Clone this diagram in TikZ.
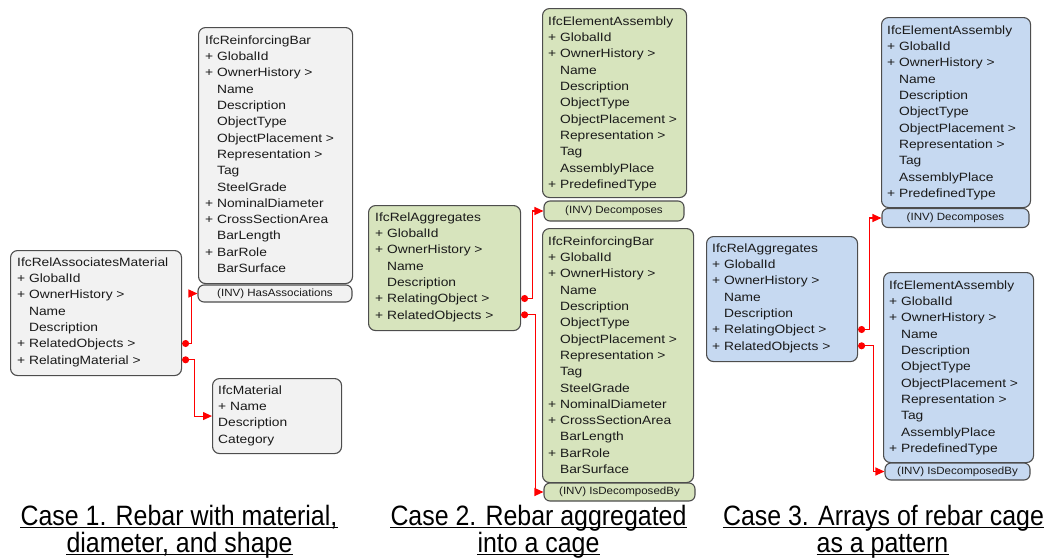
\documentclass[tikz,border=0pt]{standalone}
\usepackage{fontspec}
\setmainfont{Liberation Sans}
\usetikzlibrary{arrows.meta,calc}

\newfontfamily\boxfont[FakeStretch=1.15]{Liberation Sans}
\newfontfamily\invfont[FakeStretch=1.1]{Liberation Sans}
\newfontfamily\capfont[FakeStretch=0.89]{Liberation Sans}

\definecolor{boxgray}{HTML}{F2F2F2}
\definecolor{boxgreen}{HTML}{D7E4BD}
\definecolor{boxblue}{HTML}{C6D9F1}
\definecolor{boxline}{HTML}{4D4D4D}
\definecolor{attrtext}{HTML}{1A1A1A}

\newcommand{\noplus}{\phantom{+ }}
% one text row per attribute, row 0 is the class name
\newcommand{\classrows}[4]{%
  \foreach \t [count=\i from 0] in {#4}
    \node[attr] (#1-\i) at (#2,#3+16.3*\i) {\t};}

\tikzset{
  cbox/.style={draw=boxline, line width=1.1pt, rounded corners=7pt, anchor=north west, inner sep=0pt},
  invbox/.style={draw=boxline, line width=1.1pt, rounded corners=6pt, inner sep=0pt, text=attrtext,
    font=\invfont\fontsize{10.5}{12}\selectfont},
  attr/.style={anchor=west, inner sep=0pt, text height=8.6pt, text depth=0pt, text=attrtext,
    font=\boxfont\fontsize{12}{14}\selectfont},
  link/.style={draw=red, line width=1.1pt, arrows={Circle[length=7pt]-Triangle[length=9pt,width=8pt]}},
  caption/.style={anchor=base, inner sep=0pt, font=\capfont\fontsize{28}{30}\selectfont},
  capline/.style={line width=1.3pt}
}

\begin{document}
\begin{tikzpicture}[x=1pt, y=-1pt]
    \useasboundingbox (0,0) rectangle (1047,557);

    % Case 1
    \node[cbox, fill=boxgray, minimum width=171pt, minimum height=125pt] (ram) at (10,250) {};
    \node[cbox, fill=boxgray, minimum width=154pt, minimum height=256pt] (rb1) at (198,27) {};
    \node[invbox, fill=boxgray, minimum width=154pt, minimum height=17pt] (rb1inv) at (275,293.5) {(INV) HasAssociations};
    \node[cbox, fill=boxgray, minimum width=129pt, minimum height=75pt] (mat) at (212,378) {};
    \classrows{ram}{17}{262}{IfcRelAssociatesMaterial, + GlobalId, + OwnerHistory >, \noplus Name,
      \noplus Description, + RelatedObjects >, + RelatingMaterial >}
    \classrows{rb1}{205}{40}{IfcReinforcingBar, + GlobalId, + OwnerHistory >, \noplus Name, \noplus Description,
      \noplus ObjectType, \noplus ObjectPlacement >, \noplus Representation >, \noplus Tag, \noplus SteelGrade,
      + NominalDiameter, + CrossSectionArea, \noplus BarLength, + BarRole, \noplus BarSurface}
    \classrows{mat}{218}{390}{IfcMaterial, + Name, Description, Category}
    \draw[link] (ram-5 -| ram.east) -- ++(9,0) |- (rb1inv.west);
    \draw[link] (ram-6 -| ram.east) -- ++(12,0) |- (mat.west);

    % Case 2
    \node[cbox, fill=boxgreen, minimum width=152pt, minimum height=125pt] (ra2) at (368,205) {};
    \node[cbox, fill=boxgreen, minimum width=144pt, minimum height=189pt] (ea2) at (542,8) {};
    \node[invbox, fill=boxgreen, minimum width=140pt, minimum height=20pt] (ea2inv) at (614,211) {(INV) Decomposes};
    \node[cbox, fill=boxgreen, minimum width=151pt, minimum height=254pt] (rb2) at (542,228) {};
    \node[invbox, fill=boxgreen, minimum width=151pt, minimum height=18pt] (rb2inv) at (619.5,492) {(INV) IsDecomposedBy};
    \classrows{ra2}{375}{217}{IfcRelAggregates, + GlobalId, + OwnerHistory >, \noplus Name,
      \noplus Description, + RelatingObject >, + RelatedObjects >}
    \classrows{ea2}{548}{21}{IfcElementAssembly, + GlobalId, + OwnerHistory >, \noplus Name, \noplus Description,
      \noplus ObjectType, \noplus ObjectPlacement >, \noplus Representation >, \noplus Tag,
      \noplus AssemblyPlace, + PredefinedType}
    \classrows{rb2}{548}{241}{IfcReinforcingBar, + GlobalId, + OwnerHistory >, \noplus Name, \noplus Description,
      \noplus ObjectType, \noplus ObjectPlacement >, \noplus Representation >, \noplus Tag, \noplus SteelGrade,
      + NominalDiameter, + CrossSectionArea, \noplus BarLength, + BarRole, \noplus BarSurface}
    \draw[link] (ra2-5 -| ra2.east) -- ++(11,0) |- (ea2inv.west);
    \draw[link] (ra2-6 -| ra2.east) -- ++(14,0) |- (rb2inv.west);

    % Case 3
    \node[cbox, fill=boxblue, minimum width=151pt, minimum height=125pt] (ra3) at (706,236) {};
    \node[cbox, fill=boxblue, minimum width=149pt, minimum height=190pt] (ea3a) at (881,17) {};
    \node[invbox, fill=boxblue, minimum width=147pt, minimum height=19pt] (ea3ainv) at (955.5,218) {(INV) Decomposes};
    \node[cbox, fill=boxblue, minimum width=150pt, minimum height=190pt] (ea3b) at (883,272) {};
    \node[invbox, fill=boxblue, minimum width=145pt, minimum height=17pt] (ea3binv) at (957.5,471.5) {(INV) IsDecomposedBy};
    \classrows{ra3}{712}{248}{IfcRelAggregates, + GlobalId, + OwnerHistory >, \noplus Name,
      \noplus Description, + RelatingObject >, + RelatedObjects >}
    \classrows{ea3a}{887}{30}{IfcElementAssembly, + GlobalId, + OwnerHistory >, \noplus Name, \noplus Description,
      \noplus ObjectType, \noplus ObjectPlacement >, \noplus Representation >, \noplus Tag,
      \noplus AssemblyPlace, + PredefinedType}
    \classrows{ea3b}{889}{285}{IfcElementAssembly, + GlobalId, + OwnerHistory >, \noplus Name, \noplus Description,
      \noplus ObjectType, \noplus ObjectPlacement >, \noplus Representation >, \noplus Tag,
      \noplus AssemblyPlace, + PredefinedType}
    \draw[link] (ra3-5 -| ra3.east) -- ++(11,0) |- (ea3ainv.west);
    \draw[link] (ra3-6 -| ra3.east) -- ++(15,0) |- (ea3binv.west);

    % captions
    \node[caption] (cap1a) at (179,525) {Case 1. Rebar with material,};
    \node[caption] (cap1b) at (179.5,552) {diameter, and shape};
    \node[caption] (cap2a) at (538.5,525) {Case 2. Rebar aggregated};
    \node[caption] (cap2b) at (538.5,552) {into a cage};
    \node[caption] (cap3a) at (883.5,525) {Case 3. Arrays of rebar cage};
    \node[caption] (cap3b) at (882.5,552) {as a pattern};
    \foreach \c in {cap1a,cap1b,cap2a,cap2b,cap3a,cap3b}
        \draw[capline] ($(\c.base west)+(0,2.5)$) -- ($(\c.base east)+(0,2.5)$);
\end{tikzpicture}
\end{document}
